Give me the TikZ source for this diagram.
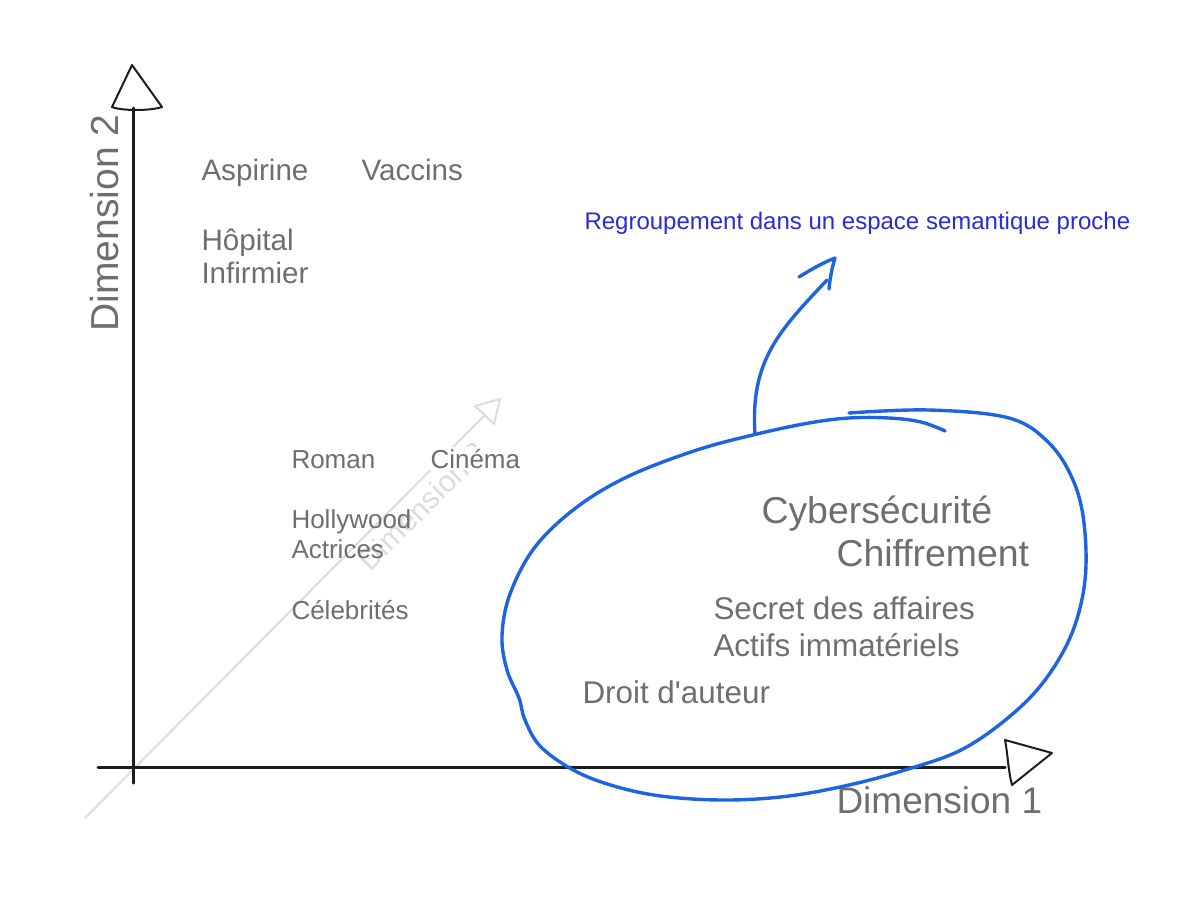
\documentclass[tikz,border=0pt]{standalone}
\usepackage{fontspec}
\setmainfont{Liberation Sans}
\definecolor{axisblack}{HTML}{1C1C1C}
\definecolor{wordgray}{HTML}{6E6E6E}
\definecolor{faintgray}{HTML}{DCDCDC}
\definecolor{loopblue}{HTML}{1E64E2}
\definecolor{noteblue}{HTML}{2A2ADC}

\tikzset{every path/.style={line width=1.5pt, line cap=round, line join=round}}
\tikzset{
  word/.style={text=wordgray, anchor=base west, inner sep=0pt},
  wtop/.style={word, font=\fontsize{14.8}{17}\selectfont},
  wmid/.style={word, font=\fontsize{13}{15}\selectfont},
  wbig/.style={word, font=\fontsize{18.7}{21}\selectfont},
  wsec/.style={word, font=\fontsize{15.7}{18}\selectfont},
  axislabel/.style={word, font=\fontsize{18.5}{21}\selectfont},
  hand/.style={draw=loopblue, line width=1.7pt}
}

\begin{document}
\begin{tikzpicture}[x=0.5pt,y=-0.5pt]
\useasboundingbox (0,0) rectangle (1200,900);

% axes
\coordinate (o) at (133,767);
\coordinate (ytop) at (133,108);
\coordinate (ybot) at (133,783);
\coordinate (xleft) at (98,767);
\coordinate (xright) at (1005,767);
\coordinate (zstart) at (85,818);
\coordinate (zend) at (485,415);
\draw[faintgray, line width=1pt] (zstart) -- (zend);
\draw[faintgray, line width=1pt] (475,406) -- (500,399) -- (494,424) -- cycle;
\node[text=faintgray, font=\fontsize{15}{17}\selectfont, rotate=45] (dim3) at (422,506) {Dimension 3};
\draw[axisblack] (ybot) -- (ytop);
\draw[axisblack] (xleft) -- (xright);
\draw[axisblack, line width=1pt] (112,107) -- (132,65) -- (162,107) .. controls (150,111) and (122,111) .. cycle;
\draw[axisblack, line width=1pt] (1005,740) -- (1052,753) -- (1012,785) .. controls (1008,770) and (1008,755) .. cycle;
\node[axislabel, rotate=90, font=\fontsize{19.5}{22}\selectfont] (dim2) at (118,333) {Dimension 2};
\node[axislabel] (dim1) at (835,813) {Dimension 1};

% words
\node[wtop] (aspirine) at (200,180.5) {Aspirine};
\node[wtop] (vaccins) at (360,180.5) {Vaccins};
\node[wtop] (hopital) at (200,250.5) {Hôpital};
\node[wtop] (infirmier) at (200,283.5) {Infirmier};
\node[wmid] (roman) at (290,468) {Roman};
\node[wmid, fill=white, inner sep=1pt] (cinema) at (427,468) {Cinéma};
\node[wmid] (hollywood) at (290,528) {Hollywood};
\node[wmid] (actrices) at (290,558) {Actrices};
\node[wmid] (celeb) at (290,619) {Célebrités};
\node[wbig] (cyber) at (760,523) {Cybersécurité};
\node[wbig] (chiffre) at (835,566) {Chiffrement};
\node[wsec] (secret) at (712,619) {Secret des affaires};
\node[wsec] (actifs) at (712,656) {Actifs immatériels};
\node[wsec] (droit) at (581,703) {Droit d\textquotesingle auteur};
\node[text=noteblue, anchor=base west, inner sep=0pt, font=\fontsize{12}{14}\selectfont] (note) at (583,229.5) {Regroupement dans un espace semantique proche};

% cluster loop
\draw[hand] plot[smooth, tension=0.6] coordinates {(849,413) (929,410) (1009,418) (1049,443) (1073,480) (1084,523) (1085,580) (1072,633) (1045,680) (1009,717) (961,750) (905,770) (849,785) (789,796) (729,800) (669,797) (621,788) (577,772) (541,747) (525,720) (519,698) (507,670) (502,636) (510,594) (535,547) (577,507) (629,476) (697,450) (757,434) (809,423) (849,418) (889,418) (921,422) (945,431)};

% arrow to note
\coordinate (grp) at (755,434);
\coordinate (tip) at (835,258);
\draw[hand] (grp) .. controls (750,360) and (780,330) .. (827,280);
\draw[hand] (799,277) .. controls (815,267) and (825,262) .. (tip) .. controls (832,268) and (830,278) .. (829,289);
\end{tikzpicture}
\end{document}
